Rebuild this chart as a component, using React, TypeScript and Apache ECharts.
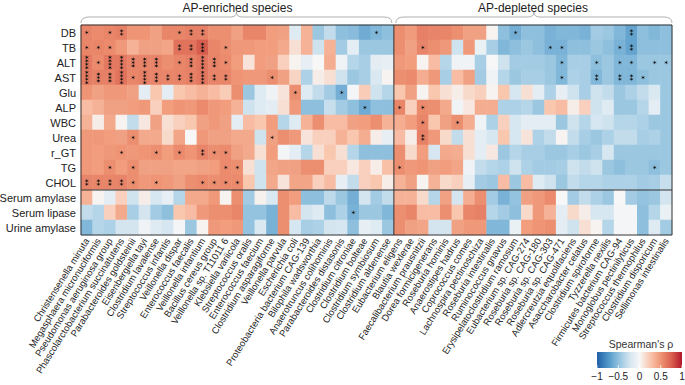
import React, { useEffect, useRef } from 'react';
import * as echarts from 'echarts';

const FONT = '"Liberation Sans", Arial, Helvetica, sans-serif';

const rowLabels = ['DB', 'TB', 'ALT', 'AST', 'Glu', 'ALP', 'WBC', 'Urea', 'r_GT', 'TG', 'CHOL', 'Serum amylase', 'Serum lipase', 'Urine amylase'];

const enrichedSpecies = [
  'Christensenella minuta', 'Megasphaera micronuciformis', 'Pseudomonas aeruginosa group',
  'Phascolarctobacterium succinatutens', 'Parabacteroides goldsteinii', 'Eisenbergiella tayi',
  'Clostridium lavalense', 'Streptococcus infantis', 'Veillonella dispar', 'Enterococcus faecalis',
  'Veillonella infantium', 'Bacillus cereus group', 'Veillonella sp. T11011 6', 'Klebsiella variicola',
  'Streptococcus oralis', 'Enterococcus faecium', 'Clostridium asparagiforme', 'Veillonella parvula',
  'Escherichia coli', 'Proteobacteria bacterium CAG-139', 'Bilophila wadsworthia',
  'Anaerotruncus colihominis', 'Parabacteroides distasonis', 'Clostridium citroniae',
  'Clostridium bolteae', 'Clostridium symbiosum', 'Clostridium aldenense',
];
const depletedSpecies = [
  'Eubacterium eligens', 'Blautia wexlerae', 'Faecalibacterium prausnitzii', 'Dorea formicigenerans',
  'Roseburia hominis', 'Anaerostipes hadrus', 'Coprococcus comes', 'Lachnospira pectinoschiza',
  'Roseburia intestinalis', 'Ruminococcus gnavus', 'Erysipelatoclostridium ramosum',
  'Eubacterium sp. CAG-274', 'Roseburia sp. CAG-180', 'Roseburia sp. CAG-303', 'Roseburia sp. CAG-471',
  'Adlercreutzia equolifaciens', 'Asaccharobacter celatus', 'Clostridium spiroforme',
  'Tyzzerella nexilis', 'Firmicutes bacterium CAG-94', 'Monoglobus pectinilyticus',
  'Streptococcus thermophilus', 'Clostridium disporicum', 'Sellimonas intestinalis',
];
const speciesLabels = [...enrichedSpecies, ...depletedSpecies];

// Spearman's rho per clinical index (27 enriched + 24 depleted species)
const rhoDB = [0.58,0.55,0.57,0.6,0.5,0.5,0.44,0.57,0.57,0.6,0.6,0.53,0.53,0.44,0.57,0.57,0.46,0.44,-0.15,0.35,-0.45,-0.3,-0.5,-0.52,-0.62,-0.55,-0.5,
  0.53,0.47,0.6,0.58,0.57,0.53,0.44,0.44,0.02,-0.5,-0.6,-0.5,-0.5,-0.58,-0.55,-0.55,-0.58,-0.42,-0.45,-0.55,-0.66,-0.5,-0.55,-0.5];
const rhoTB = [0.57,0.57,0.55,0.48,0.35,0.44,0.44,0.42,0.66,0.66,0.76,0.57,0.53,0.48,0.48,0.46,0.46,0.4,0.12,0.35,-0.25,0.35,-0.42,-0.12,-0.45,-0.45,-0.45,
  0.53,0.44,0.58,0.53,0.48,-0.25,0.48,-0.08,-0.4,-0.55,-0.5,-0.45,-0.5,-0.58,-0.58,-0.5,-0.5,-0.45,-0.5,-0.58,-0.66,-0.5,-0.5,-0.5];
const rhoALT = [0.63,0.55,0.63,0.63,0.58,0.58,0.58,0.53,0.57,0.6,0.64,0.58,0.55,0.46,0.1,0.46,0.44,0.2,0.02,-0.1,0.0,0.38,-0.05,-0.35,-0.4,-0.12,-0.1,
  0.48,0.46,0.02,0.3,-0.35,-0.05,-0.05,-0.4,0.0,-0.25,-0.42,-0.42,-0.42,-0.45,-0.55,-0.4,-0.4,-0.5,-0.45,-0.55,-0.55,-0.45,-0.45,-0.45];
const rhoAST = [0.62,0.6,0.6,0.66,0.57,0.6,0.58,0.57,0.58,0.6,0.64,0.58,0.57,0.5,0.48,0.48,0.53,0.44,0.18,-0.38,0.05,0.12,-0.25,-0.45,-0.4,-0.18,0.02,
  0.53,0.55,0.38,0.48,-0.4,0.3,0.44,-0.42,-0.05,-0.35,-0.45,-0.4,-0.4,-0.45,-0.55,-0.38,-0.4,-0.55,-0.45,-0.55,-0.55,-0.5,-0.45,-0.45];
const rhoGlu = [0.5,0.44,0.48,0.48,0.44,-0.12,0.25,-0.12,0.25,0.3,0.35,0.3,0.22,0.53,-0.45,-0.15,-0.05,0.1,0.53,-0.15,-0.3,-0.42,-0.6,-0.02,0.22,-0.25,-0.35,
  0.25,0.44,0.02,0.25,0.12,0.05,0.15,0.2,0.02,0.25,-0.2,0.12,-0.12,-0.38,-0.1,-0.25,-0.4,-0.25,-0.3,-0.45,-0.38,-0.3,-0.18,-0.45];
const rhoALP = [0.3,0.35,0.44,0.44,0.46,0.48,0.2,0.46,0.5,0.48,0.55,0.48,0.46,0.35,-0.25,-0.15,-0.12,0.12,0.48,-0.5,-0.5,-0.28,-0.42,-0.5,-0.62,-0.5,-0.5,
  0.57,0.2,0.55,0.53,0.4,-0.05,0.08,0.38,0.38,-0.38,-0.38,-0.35,-0.45,0.25,0.3,0.05,0.2,-0.25,-0.15,-0.45,-0.45,-0.35,-0.12,-0.45];
const rhoWBC = [0.35,0.05,0.4,0.02,-0.3,0.08,0.44,0.12,0.2,0.25,0.44,0.48,0.44,-0.12,0.3,0.25,0.46,-0.35,-0.15,0.35,0.53,0.3,0.3,0.44,0.46,0.53,0.35,
  0.38,0.46,0.57,0.25,0.44,0.53,0.38,-0.05,-0.38,0.2,-0.2,-0.12,-0.12,-0.12,-0.45,-0.25,-0.35,-0.2,-0.25,-0.35,-0.35,-0.38,-0.45,-0.45];
const rhoUrea = [0.48,0.48,0.46,0.44,0.53,0.4,0.4,0.15,0.42,0.0,0.48,0.44,0.44,0.4,0.4,-0.25,0.44,0.53,0.48,0.1,0.2,0.2,0.35,0.25,0.38,0.05,-0.1,
  0.3,0.05,0.6,0.48,0.15,-0.3,0.12,-0.12,-0.2,0.25,-0.2,0.1,-0.38,-0.3,0.02,-0.3,-0.4,-0.45,-0.38,-0.3,-0.3,-0.4,-0.38,-0.45];
const rhoRGT = [0.48,0.46,0.48,0.5,0.48,0.5,0.53,0.46,0.55,0.5,0.58,0.53,0.55,0.44,0.4,0.12,0.46,-0.02,-0.12,-0.35,0.12,0.25,0.12,-0.35,-0.5,-0.5,-0.5,
  0.53,0.15,0.46,-0.2,0.4,0.38,0.12,-0.12,0.08,-0.45,-0.35,-0.4,-0.4,-0.45,-0.45,-0.4,-0.45,-0.4,-0.2,-0.45,-0.45,-0.45,-0.45,-0.45];
const rhoTG = [0.48,0.46,0.53,0.46,0.53,0.44,0.44,0.44,0.42,0.42,0.44,0.46,0.55,0.53,0.12,-0.25,0.42,0.44,0.44,0.53,0.53,0.2,0.2,0.08,0.2,0.05,0.28,
  0.53,0.48,0.5,0.44,0.46,0.42,-0.05,-0.3,-0.35,-0.38,-0.25,-0.38,-0.42,-0.42,-0.4,-0.25,-0.3,-0.25,-0.45,-0.5,-0.45,-0.45,-0.5,-0.45];
const rhoCHOL = [0.58,0.57,0.57,0.58,0.53,0.48,0.5,0.48,0.44,0.53,0.55,0.53,0.55,0.55,0.25,-0.25,0.4,0.1,0.42,0.42,0.2,0.3,-0.1,-0.3,0.2,0.25,0.05,
  0.35,0.44,0.02,0.35,0.15,0.2,-0.1,-0.42,-0.45,0.3,-0.45,0.3,-0.15,-0.25,-0.45,-0.3,-0.35,-0.35,-0.38,-0.38,-0.38,-0.42,-0.4,-0.28];
const rhoSerumAmylase = [0.35,0.02,-0.12,0.2,-0.25,0.05,-0.2,-0.1,-0.35,0.4,0.4,0.48,0.02,0.53,-0.42,0.03,-0.18,0.53,0.46,-0.5,-0.5,-0.32,-0.45,-0.6,-0.22,-0.42,-0.3,
  0.35,0.35,0.15,-0.35,0.44,-0.22,0.38,0.53,-0.42,-0.58,-0.48,0.44,0.48,0.55,0.0,-0.42,-0.3,-0.38,-0.45,0.0,-0.42,-0.48,-0.45,-0.22];
const rhoSerumLipase = [-0.3,-0.35,0.2,0.4,-0.4,-0.22,-0.42,-0.5,0.25,0.3,0.48,0.53,0.53,0.57,-0.48,-0.48,-0.58,0.53,0.3,-0.22,-0.15,-0.5,-0.38,-0.58,-0.45,-0.45,-0.55,
  0.53,0.57,0.3,0.3,0.53,0.25,0.57,0.6,-0.35,-0.42,-0.5,0.15,0.48,0.35,-0.12,0.15,0.05,-0.2,-0.2,-0.02,-0.02,-0.5,-0.35,-0.08];
const rhoUrineAmylase = [-0.55,-0.35,-0.38,-0.22,-0.22,-0.05,-0.15,-0.2,-0.02,-0.45,0.02,0.48,0.46,0.48,-0.48,-0.18,-0.58,0.53,-0.2,-0.4,-0.38,-0.22,-0.2,-0.5,-0.1,-0.15,-0.45,
  0.53,0.44,0.42,-0.22,-0.22,0.44,0.48,0.48,-0.55,-0.55,-0.08,0.46,0.5,0.53,-0.12,-0.25,0.12,0.02,-0.35,-0.02,-0.02,-0.5,-0.15,-0.42];

// significance level (number of asterisks)
const sigDB = [1,0,1,2,0,0,0,0,1,2,2,0,0,0,0,0,0,0,0,0,0,0,0,0,0,1,0, 0,0,0,0,0,0,0,0,0,0,1,0,0,0,0,0,0,0,0,0,2,0,0,0];
const sigTB = [1,1,1,0,0,0,0,0,2,2,3,0,1,0,0,0,0,0,0,0,0,0,0,0,0,0,0, 0,0,1,0,0,0,0,0,0,0,0,0,0,1,1,0,0,0,0,1,2,0,0,0];
const sigALT = [4,1,4,4,3,3,3,0,1,3,4,3,1,0,0,0,0,0,0,0,0,0,0,0,0,0,0, 0,0,0,0,0,0,0,0,0,0,0,0,0,0,1,0,0,1,0,1,1,0,1,1];
const sigAST = [4,3,3,4,1,4,3,2,2,3,4,2,2,0,0,0,1,0,0,0,0,0,0,0,0,0,0, 0,0,0,0,0,0,0,0,0,0,0,0,0,0,1,0,0,2,0,2,2,1,0,0];
const sigGlu = [0,0,0,0,0,0,0,0,0,0,0,0,0,0,0,0,0,0,1,0,0,0,1,0,0,0,0, 0,0,0,0,0,0,0,0,0,0,0,0,0,0,0,0,0,0,0,0,0,0,0,0];
const sigALP = [0,0,0,0,0,0,0,0,0,0,0,0,0,0,0,0,0,0,0,0,0,0,0,0,1,0,0, 1,0,1,0,0,0,0,0,0,0,0,0,0,0,0,0,0,0,0,0,0,0,0,0];
const sigWBC = [0,0,0,0,0,0,0,0,0,0,0,0,0,0,0,0,0,0,0,0,0,0,0,0,0,0,0, 0,0,1,0,0,1,0,0,0,0,0,0,0,0,0,0,0,0,0,0,0,0,0,0];
const sigUrea = [0,0,0,0,1,0,0,0,0,0,0,0,0,0,0,0,1,0,0,0,0,0,0,0,0,0,0, 0,0,2,0,0,0,0,0,0,0,0,0,0,0,0,0,0,0,0,0,0,0,0,0];
const sigRGT = [0,0,0,1,0,0,1,0,1,0,2,1,1,0,0,0,0,0,0,0,0,0,0,0,0,0,0, 0,0,0,0,0,0,0,0,0,0,0,0,0,0,0,0,0,0,0,0,0,0,0,0];
const sigTG = [0,0,1,0,1,0,0,0,0,0,0,0,1,1,0,0,0,0,0,0,0,0,0,0,0,0,0, 1,0,0,0,0,0,0,0,0,0,0,0,0,0,0,0,0,0,0,0,0,0,1,0];
const sigCHOL = [2,2,2,2,1,0,1,0,0,0,1,1,1,1,0,0,0,0,0,0,0,0,0,0,0,0,0, 0,0,0,0,0,0,0,0,0,0,0,0,0,0,0,0,0,0,0,0,0,0,0,0];
const sigSerumAmylase = [0,0,0,0,0,0,0,0,0,0,0,0,0,0,0,0,0,0,0,0,0,0,0,0,0,0,0, 0,0,0,0,0,0,0,0,0,0,0,0,0,0,0,0,0,0,0,0,0,0,0,0];
const sigSerumLipase = [0,0,0,0,0,0,0,0,0,0,0,0,0,0,0,0,0,0,0,0,0,0,0,1,0,0,0, 0,0,0,0,0,0,0,0,0,0,0,0,0,0,0,0,0,0,0,0,0,0,0,0];
const sigUrineAmylase = [0,0,0,0,0,0,0,0,0,0,0,0,0,0,0,0,0,0,0,0,0,0,0,0,0,0,0, 0,0,0,0,0,0,0,0,0,0,0,0,0,0,0,0,0,0,0,0,0,0,0,0];

const rhoRows = [rhoDB, rhoTB, rhoALT, rhoAST, rhoGlu, rhoALP, rhoWBC, rhoUrea, rhoRGT, rhoTG, rhoCHOL, rhoSerumAmylase, rhoSerumLipase, rhoUrineAmylase];
const sigRows = [sigDB, sigTB, sigALT, sigAST, sigGlu, sigALP, sigWBC, sigUrea, sigRGT, sigTG, sigCHOL, sigSerumAmylase, sigSerumLipase, sigUrineAmylase];

const paletteColors = ['#1f5fa6', '#4d94c6', '#8ec0de', '#cfe3ef', '#f7f7f7', '#f9c6ae', '#ef9575', '#d9604f', '#b2182b'];
const colorbarTicks = [-1, -0.5, 0, 0.5, 1];
const groupTitles = ['AP-enriched species', 'AP-depleted species'];
const clinicalSplitAfter = 'CHOL';

const ASTERISK = 'path://M5 0 L5.8 3.7 L9.33 2.5 L6.5 5 L9.33 7.5 L5.8 6.3 L5 10 L4.2 6.3 L0.67 7.5 L3.5 5 L0.67 2.5 L4.2 3.7 Z';

export default function App() {
  const ref = useRef<HTMLDivElement>(null);
  useEffect(() => {
    const chart = echarts.init(ref.current!, null, { renderer: 'svg' });
    const data: any[] = [];
    const stars: any[] = [];
    rhoRows.forEach((row, r) => row.forEach((v, c) => {
      data.push([c, r, v]);
      const n = sigRows[r][c];
      for (let k = 0; k < n; k++) {
        stars.push({ value: [c, r], symbolOffset: [0, (k - (n - 1) / 2) * 3.4] });
      }
    }));

    chart.setOption({
      animation: false,
      backgroundColor: '#ffffff',
      textStyle: { fontFamily: FONT },
      grid: { left: 81, top: 25, right: 13, bottom: 150, containLabel: false, outerBoundsMode: 'none' },
      xAxis: {
        type: 'category', data: speciesLabels,
        axisLine: { show: false }, axisTick: { show: false }, splitLine: { show: false },
        axisLabel: { interval: 0, rotate: 58, fontSize: 9.5, margin: 4, color: '#222', fontFamily: FONT },
      },
      yAxis: {
        type: 'category', data: rowLabels, inverse: true,
        axisLine: { show: false }, axisTick: { show: false }, splitLine: { show: false },
        axisLabel: { fontSize: 11, margin: 5, color: '#222', fontFamily: FONT },
      },
      visualMap: { show: false, min: -1, max: 1, dimension: 2, seriesIndex: 0, inRange: { color: paletteColors } },
      series: [
        { type: 'heatmap', data, emphasis: { disabled: true } },
        {
          type: 'scatter', data: stars, symbol: ASTERISK, symbolSize: 4.3, z: 10,
          itemStyle: { color: '#111', opacity: 1 }, emphasis: { disabled: true }, silent: true,
        },
      ],
    });

    const p00 = chart.convertToPixel({ seriesIndex: 0 }, [0, 0]) as number[];
    const p11 = chart.convertToPixel({ seriesIndex: 0 }, [1, 1]) as number[];
    const cw = p11[0] - p00[0];
    const ch = p11[1] - p00[1];
    const x0 = p00[0] - cw / 2;
    const y0 = p00[1] - ch / 2;
    const nC = speciesLabels.length;
    const nR = rowLabels.length;
    const x1 = x0 + cw * nC;
    const y1 = y0 + ch * nR;
    const xs = x0 + cw * enrichedSpecies.length;
    const ys = y0 + ch * (rowLabels.indexOf(clinicalSplitAfter) + 1);

    const braceColor = '#9a9a9a';
    const brace = (a: number, b: number) => {
      const m = (a + b) / 2;
      const yb = y0 - 2, yl = y0 - 8, yp = y0 - 13;
      const st = { stroke: braceColor, lineWidth: 0.8, fill: null };
      return [
        { type: 'bezierCurve', shape: { x1: a, y1: yb, x2: a + 8, y2: yl, cpx1: a, cpy1: yl }, style: st },
        { type: 'line', shape: { x1: a + 8, y1: yl, x2: m - 6, y2: yl }, style: st },
        { type: 'bezierCurve', shape: { x1: m - 6, y1: yl, x2: m, y2: yp, cpx1: m, cpy1: yl }, style: st },
        { type: 'bezierCurve', shape: { x1: m, y1: yp, x2: m + 6, y2: yl, cpx1: m, cpy1: yl }, style: st },
        { type: 'line', shape: { x1: m + 6, y1: yl, x2: b - 8, y2: yl }, style: st },
        { type: 'bezierCurve', shape: { x1: b - 8, y1: yl, x2: b, y2: yb, cpx1: b, cpy1: yl }, style: st },
      ];
    };

    const cbX0 = 597, cbX1 = 682, cbY = 352, cbH = 16;
    const cbPos = (v: number) => cbX0 + ((v + 1) / 2) * (cbX1 - cbX0);
    const gradStops = paletteColors.map((c, i) => ({ offset: i / (paletteColors.length - 1), color: c }));

    const lineStyle = { stroke: '#333', lineWidth: 1 };
    const graphic: any[] = [
      { type: 'rect', z: 50, shape: { x: x0, y: y0, width: x1 - x0, height: y1 - y0 }, style: { fill: null, stroke: '#333', lineWidth: 1 } },
      { type: 'line', z: 50, shape: { x1: xs, y1: y0, x2: xs, y2: y1 }, style: lineStyle },
      { type: 'line', z: 50, shape: { x1: x0, y1: ys, x2: x1, y2: ys }, style: lineStyle },
      ...brace(x0, xs - 2),
      ...brace(xs + 2, x1),
      { type: 'text', style: { text: groupTitles[0], x: (x0 + xs) / 2, y: 8, align: 'center', verticalAlign: 'middle', fontSize: 12, fill: '#222', fontFamily: FONT } },
      { type: 'text', style: { text: groupTitles[1], x: (xs + x1) / 2, y: 8, align: 'center', verticalAlign: 'middle', fontSize: 12, fill: '#222', fontFamily: FONT } },
      { type: 'text', style: { text: "Spearman's \u03c1", x: 641, y: 344, align: 'center', verticalAlign: 'middle', fontSize: 10.5, fill: '#333', fontFamily: FONT } },
      {
        type: 'rect', shape: { x: cbX0, y: cbY, width: cbX1 - cbX0, height: cbH },
        style: { fill: new echarts.graphic.LinearGradient(0, 0, 1, 0, gradStops) },
      },
      ...colorbarTicks.map((t) => ({
        type: 'line', shape: { x1: cbPos(t), y1: cbY + cbH - 3, x2: cbPos(t), y2: cbY + cbH }, style: { stroke: '#ffffff', lineWidth: 0.8 },
      })),
      ...colorbarTicks.map((t) => ({
        type: 'text',
        style: { text: (t < 0 ? '\u2212' : '') + String(Math.abs(t)), x: cbPos(t), y: cbY + cbH + 8, align: 'center', verticalAlign: 'middle', fontSize: 10, fill: '#222', fontFamily: FONT },
      })),
    ];
    chart.setOption({ graphic });

    return () => chart.dispose();
  }, []);
  return <div ref={ref} style={{ position: 'fixed', left: 0, top: 0, width: 685, height: 385, background: '#fff' }} />;
}
